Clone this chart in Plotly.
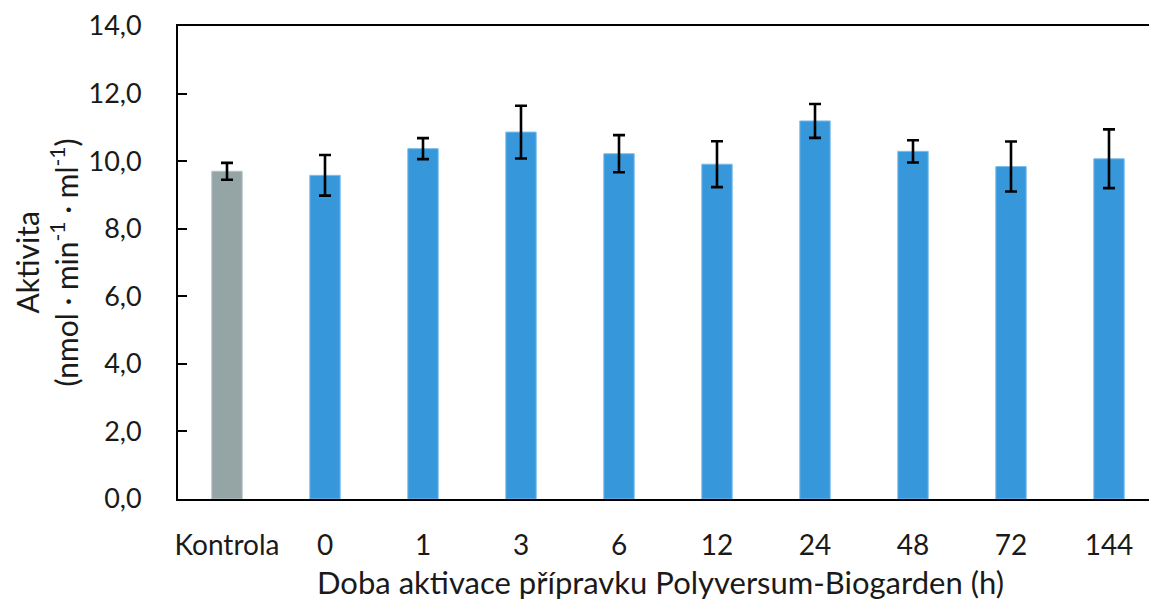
import plotly.graph_objects as go

categories = ["Kontrola", "0", "1", "3", "6", "12", "24", "48", "72", "144"]
values = [9.70, 9.58, 10.37, 10.86, 10.22, 9.91, 11.19, 10.29, 9.84, 10.07]
errors = [0.25, 0.60, 0.31, 0.78, 0.55, 0.68, 0.50, 0.33, 0.74, 0.87]
colors = ["#95A5A6"] + ["#3797DB"] * 9
line_colors = ["#B5C2C3"] + ["#7DBDEB"] * 9

FONT = "Lato"
W, H = 1149, 602
L, T, B = 178, 26, 103
plot_w = W - L
cat_px = 98.0

fig = go.Figure()
fig.add_trace(go.Bar(
    x=categories, y=values,
    width=0.31,
    marker=dict(color=colors, line=dict(color=line_colors, width=1)),
    error_y=dict(type="data", array=errors, visible=True,
                 color="black", thickness=2.6, width=6),
    showlegend=False,
))

fig.update_layout(
    width=W, height=H,
    margin=dict(l=L, r=0, t=T, b=B, pad=0),
    paper_bgcolor="white", plot_bgcolor="white",
    separators=", ",
    font=dict(family=FONT, size=28, color="#1a1a1a"),
)
fig.update_xaxes(
    type="category",
    range=[-0.5, -0.5 + plot_w / cat_px],
    showline=True, linecolor="black", linewidth=2, mirror=True,
    ticks="", showgrid=False, zeroline=False,
    tickfont=dict(family=FONT, size=28, color="#1a1a1a"),
    ticklabelstandoff=20,
)
fig.update_yaxes(
    range=[0, 14], dtick=2, tickformat=".1f",
    showline=True, linecolor="black", linewidth=2,
    ticks="inside", ticklen=9, tickwidth=2, tickcolor="black",
    showgrid=False, zeroline=False,
    tickfont=dict(family=FONT, size=27, color="#1a1a1a"),
    ticklabelstandoff=29,
)

fig.add_annotation(
    text="Aktivita", xref="paper", yref="paper",
    x=(26 - L) / plot_w, y=0.5, xanchor="center", yanchor="middle",
    textangle=-90, showarrow=False,
    font=dict(family=FONT, size=30, color="#1a1a1a"),
)
fig.add_annotation(
    text="(nmol · min<sup>-1</sup> · ml<sup>-1</sup>)", xref="paper", yref="paper",
    x=(64 - L) / plot_w, y=0.5, xanchor="center", yanchor="middle",
    textangle=-90, showarrow=False,
    font=dict(family=FONT, size=30, color="#1a1a1a"),
)
fig.add_annotation(
    text="Doba aktivace přípravku Polyversum-Biogarden (h)", xref="paper", yref="paper",
    x=(660 - L) / plot_w, y=-(582 - (H - B)) / (H - T - B),
    xanchor="center", yanchor="middle", showarrow=False,
    font=dict(family=FONT, size=31, color="#1a1a1a"),
)

fig.write_html("out.html")
